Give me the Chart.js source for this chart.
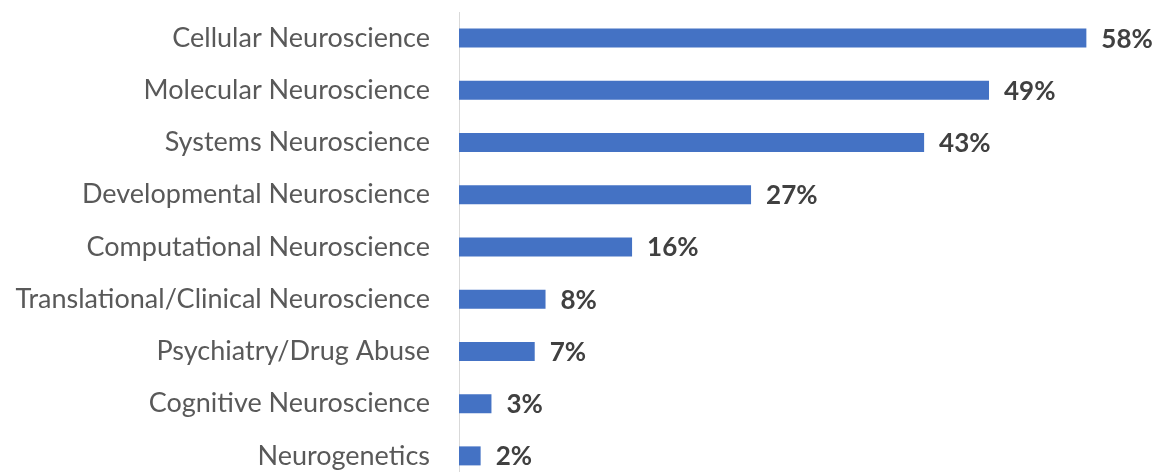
<!DOCTYPE html>
<html>
<head>
<meta charset="utf-8">
<script src="https://cdn.jsdelivr.net/npm/chart.js@4"></script>
<style>
  html, body { margin: 0; padding: 0; background: #fff; overflow: hidden; }
  #wrap { width: 1156px; height: 482px; }
</style>
</head>
<body>
<div id="wrap"><canvas id="fieldChart" width="1156" height="482"></canvas></div>
<script>
// Share of respondents by research field
const fields = [
  'Cellular Neuroscience',
  'Molecular Neuroscience',
  'Systems Neuroscience',
  'Developmental Neuroscience',
  'Computational Neuroscience',
  'Translational/Clinical Neuroscience',
  'Psychiatry/Drug Abuse',
  'Cognitive Neuroscience',
  'Neurogenetics'
];
const shares = [58, 49, 43, 27, 16, 8, 7, 3, 2];

// Writes "NN%" just past the end of each bar
const valueLabels = {
  id: 'valueLabels',
  afterDatasetsDraw(chart) {
    const ctx = chart.ctx;
    const meta = chart.getDatasetMeta(0);
    ctx.save();
    ctx.font = 'bold 26px Lato';
    ctx.fillStyle = '#404040';
    ctx.textAlign = 'left';
    ctx.textBaseline = 'middle';
    meta.data.forEach((bar, i) => {
      ctx.fillText(shares[i] + '%', bar.x + 15, bar.y + 1);
    });
    ctx.restore();
  }
};

new Chart(document.getElementById('fieldChart'), {
  type: 'bar',
  data: {
    labels: fields,
    datasets: [{
      data: shares,
      backgroundColor: '#4472C4',
      borderWidth: 0,
      barPercentage: 0.364,
      categoryPercentage: 1
    }]
  },
  options: {
    indexAxis: 'y',
    responsive: false,
    animation: false,
    layout: { padding: { top: 12, right: 48, bottom: 0, left: 0 } },
    plugins: {
      legend: { display: false },
      tooltip: { enabled: false }
    },
    scales: {
      x: {
        display: false,
        min: 0,
        max: 60
      },
      y: {
        // fixed label column; no extra vertical padding from tick labels
        afterFit: (scale) => {
          scale.width = 459;
          scale.paddingTop = 0;
          scale.paddingBottom = 0;
        },
        grid: { display: false, drawTicks: false },
        border: { display: true, color: '#d9d9d9', width: 1 },
        ticks: {
          padding: 29,
          color: '#595959',
          font: { family: 'Lato', size: 27 },
          autoSkip: false
        }
      }
    }
  },
  plugins: [valueLabels]
});
</script>
</body>
</html>
